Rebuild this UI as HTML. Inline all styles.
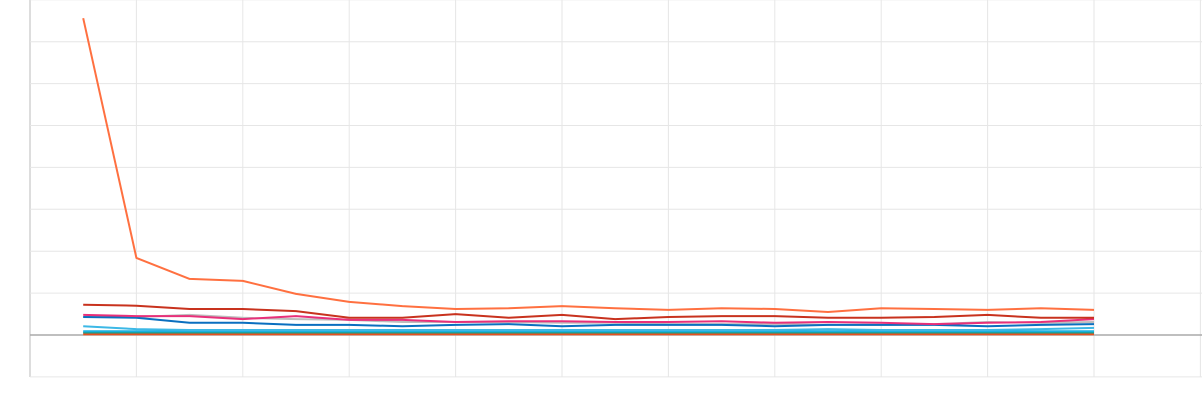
<!DOCTYPE html>
<html><head><meta charset="utf-8"><style>
html,body{margin:0;padding:0;background:#fff;}
svg{display:block;font-family:"Liberation Sans",sans-serif;}
</style></head><body>
<svg id="chart" width="1202" height="400" viewBox="0 0 1202 400"></svg>
<script>
const categories = [1,2,3,4,5,6,7,8,9,10,11,12,13,14,15,16,17,18,19,20];
const seriesOrange = [7.56,1.84,1.34,1.29,0.98,0.79,0.69,0.62,0.64,0.69,0.64,0.60,0.64,0.62,0.55,0.64,0.62,0.60,0.64,0.60];
const seriesDarkRed = [0.72,0.70,0.62,0.62,0.57,0.41,0.41,0.50,0.41,0.48,0.38,0.43,0.45,0.45,0.41,0.41,0.43,0.48,0.41,0.41];
const seriesGrey = [0.43,0.43,0.48,0.41,0.38,0.36,0.31,0.31,0.31,0.29,0.29,0.26,0.26,0.26,0.24,0.24,0.26,0.31,0.29,0.31];
const seriesPink = [0.48,0.45,0.45,0.38,0.45,0.36,0.36,0.31,0.33,0.33,0.31,0.31,0.33,0.29,0.31,0.29,0.26,0.29,0.31,0.38];
const seriesBlue = [0.43,0.41,0.29,0.29,0.24,0.24,0.21,0.24,0.26,0.21,0.24,0.24,0.24,0.21,0.24,0.24,0.24,0.21,0.24,0.26];
const seriesLightBlue = [0.21,0.14,0.12,0.12,0.12,0.12,0.12,0.12,0.12,0.12,0.12,0.12,0.12,0.12,0.14,0.12,0.12,0.12,0.14,0.17];
const seriesCyan = [0.09,0.09,0.09,0.09,0.09,0.09,0.09,0.09,0.09,0.09,0.09,0.09,0.09,0.09,0.09,0.09,0.09,0.09,0.09,0.09];
const seriesTeal = [0.06,0.06,0.06,0.06,0.06,0.06,0.06,0.06,0.06,0.06,0.06,0.06,0.06,0.06,0.06,0.06,0.06,0.06,0.06,0.06];
const seriesRedOrange = [0.03,0.03,0.03,0.03,0.03,0.03,0.03,0.03,0.03,0.03,0.03,0.03,0.03,0.03,0.03,0.03,0.03,0.03,0.03,0.03];
const yTicks = [-1,0,1,2,3,4,5,6,7,8];
const xGridCount = 12;

const NS = "http://www.w3.org/2000/svg";
const svg = document.getElementById('chart');
const x = i => 30 + 53.2 * (i + 1);
const y = v => 335 - v * 41.9;
function mk(tag, attrs){const e=document.createElementNS(NS,tag);for(const k in attrs)e.setAttribute(k,attrs[k]);svg.appendChild(e);return e;}

for (let k = 0; k < xGridCount; k++) {
  const gx = 30 + 106.4 * k;
  const g = mk('line',{x1:gx,x2:gx,y1:0,y2:377,stroke:k===0?'#bbb':'#e6e6e6','stroke-width':1});
  
  
}
yTicks.forEach(t => {
  const g = mk('line',{x1:30,x2:1202,y1:y(t),y2:y(t),stroke:t===0?'#aaa':'#e6e6e6','stroke-width':t===0?1.5:1});
  
  
});

const series = [
  ['series-red-orange', seriesRedOrange, '#e8501e', 3],
  ['series-teal', seriesTeal, '#1a9e8a', 2],
  ['series-cyan', seriesCyan, '#1ab0e0', 2],
  ['series-light-blue', seriesLightBlue, '#3cb8e6', 2],
  ['series-grey', seriesGrey, '#bdbdbd', 2],
  ['series-blue', seriesBlue, '#0a6fbf', 2],
  ['series-pink', seriesPink, '#e8307a', 2],
  ['series-dark-red', seriesDarkRed, '#c8321e', 2],
  ['series-orange', seriesOrange, '#ff7040', 2]
];
series.forEach(([name, data, color, w]) => {
  const d = data.map((v,i)=>(i?'L':'M')+x(i).toFixed(1)+','+y(v).toFixed(1)).join(' ');
  const p = mk('path',{d:d,fill:'none',stroke:color,'stroke-width':w,'stroke-linejoin':'round'});
  
  
});
</script>
</body></html>
